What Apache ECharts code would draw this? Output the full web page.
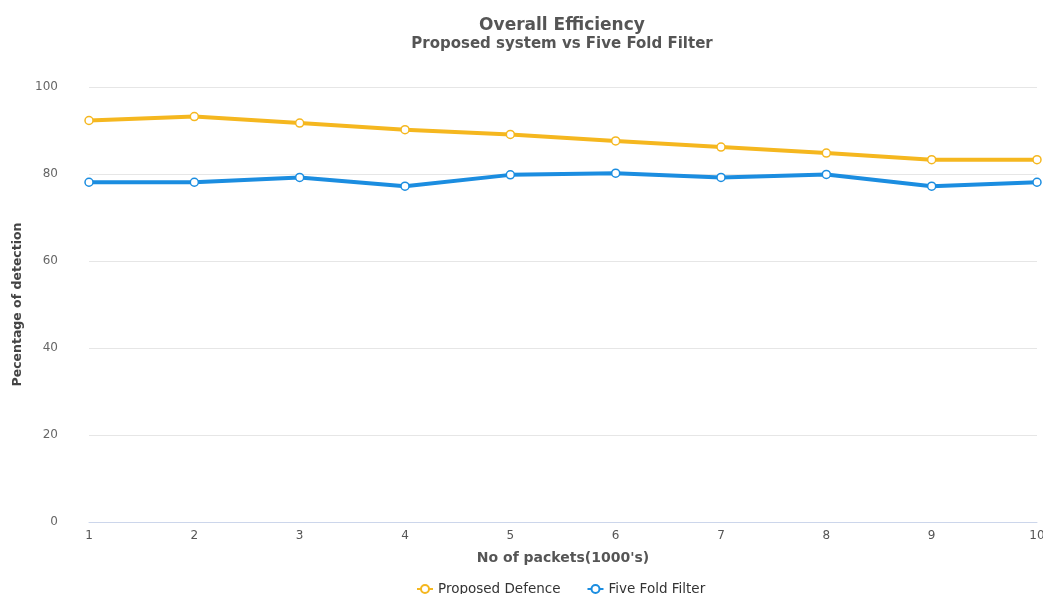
<!DOCTYPE html>
<html>
<head>
<meta charset="utf-8">
<script src="https://cdn.jsdelivr.net/npm/echarts@6/dist/echarts.min.js"></script>
<style>
  html, body { margin: 0; padding: 0; background: #fff; }
  #chart { width: 1043px; height: 594px; }
</style>
</head>
<body>
<div id="chart"></div>
<script>
// Packet counts (thousands) on the x axis
const categories = ['1', '2', '3', '4', '5', '6', '7', '8', '9', '10'];
// Detection percentage per packet count
const proposedDefence = [92.3, 93.2, 91.7, 90.2, 89.1, 87.6, 86.2, 84.8, 83.3, 83.3];
const fiveFoldFilter = [78.1, 78.1, 79.2, 77.2, 79.8, 80.2, 79.2, 79.9, 77.2, 78.1];
const yTicks = { min: 0, max: 100, interval: 20 };

const chart = echarts.init(document.getElementById('chart'), null, { renderer: 'canvas' });

const gridLeft = 89;
const gridRight = 6;

function lineSeries(name, data, color) {
  return {
    name: name,
    type: 'line',
    data: data,
    symbol: 'circle',
    symbolSize: 8,
    showSymbol: true,
    lineStyle: { width: 4, color: color },
    itemStyle: { color: '#ffffff', borderColor: color, borderWidth: 1.5 },
    emphasis: { disabled: true }
  };
}

chart.setOption({
  animation: false,
  backgroundColor: '#ffffff',
  title: {
    text: 'Overall Efficiency',
    subtext: 'Proposed system vs Five Fold Filter',
    left: 557,
    textAlign: 'center',
    top: 12,
    itemGap: 3,
    textStyle: { fontFamily: 'DejaVu Sans', fontSize: 17, fontWeight: 'bold', color: '#555555' },
    subtextStyle: { fontFamily: 'DejaVu Sans', fontSize: 15, fontWeight: 'bold', color: '#555555' }
  },
  legend: {
    bottom: -7,
    left: 411,
    itemGap: 26,
    itemWidth: 16,
    itemHeight: 10,
    textStyle: { fontFamily: 'DejaVu Sans', fontSize: 13.5, color: '#333333' },
    data: ['Proposed Defence', 'Five Fold Filter']
  },
  grid: { left: gridLeft, right: gridRight, top: 87, bottom: 72, outerBoundsMode: 'none', containLabel: false },
  xAxis: {
    type: 'category',
    data: categories,
    boundaryGap: false,
    name: "No of packets(1000's)",
    nameLocation: 'middle',
    nameGap: 29,
    nameTextStyle: { fontFamily: 'DejaVu Sans', fontSize: 14, fontWeight: 'bold', color: '#555555' },
    axisLine: { lineStyle: { color: '#ccd6eb', width: 1 } },
    axisTick: { show: false },
    axisLabel: { fontFamily: 'DejaVu Sans', fontSize: 12, color: '#555555', margin: 8 }
  },
  yAxis: {
    type: 'value',
    min: yTicks.min,
    max: yTicks.max,
    interval: yTicks.interval,
    name: 'Pecentage of detection',
    nameLocation: 'middle',
    nameGap: 65,
    nameTextStyle: { fontFamily: 'DejaVu Sans', fontSize: 12.5, fontWeight: 'bold', color: '#444444' },
    axisLine: { show: false },
    axisTick: { show: false },
    splitLine: { lineStyle: { color: '#e6e6e6', width: 1 } },
    axisLabel: { fontFamily: 'DejaVu Sans', fontSize: 12, color: '#666666', margin: 31 }
  },
  color: ['#f5b71f', '#1b8de0'],
  series: [
    lineSeries('Proposed Defence', proposedDefence, '#f5b71f'),
    lineSeries('Five Fold Filter', fiveFoldFilter, '#1b8de0')
  ]
});
</script>
</body>
</html>
